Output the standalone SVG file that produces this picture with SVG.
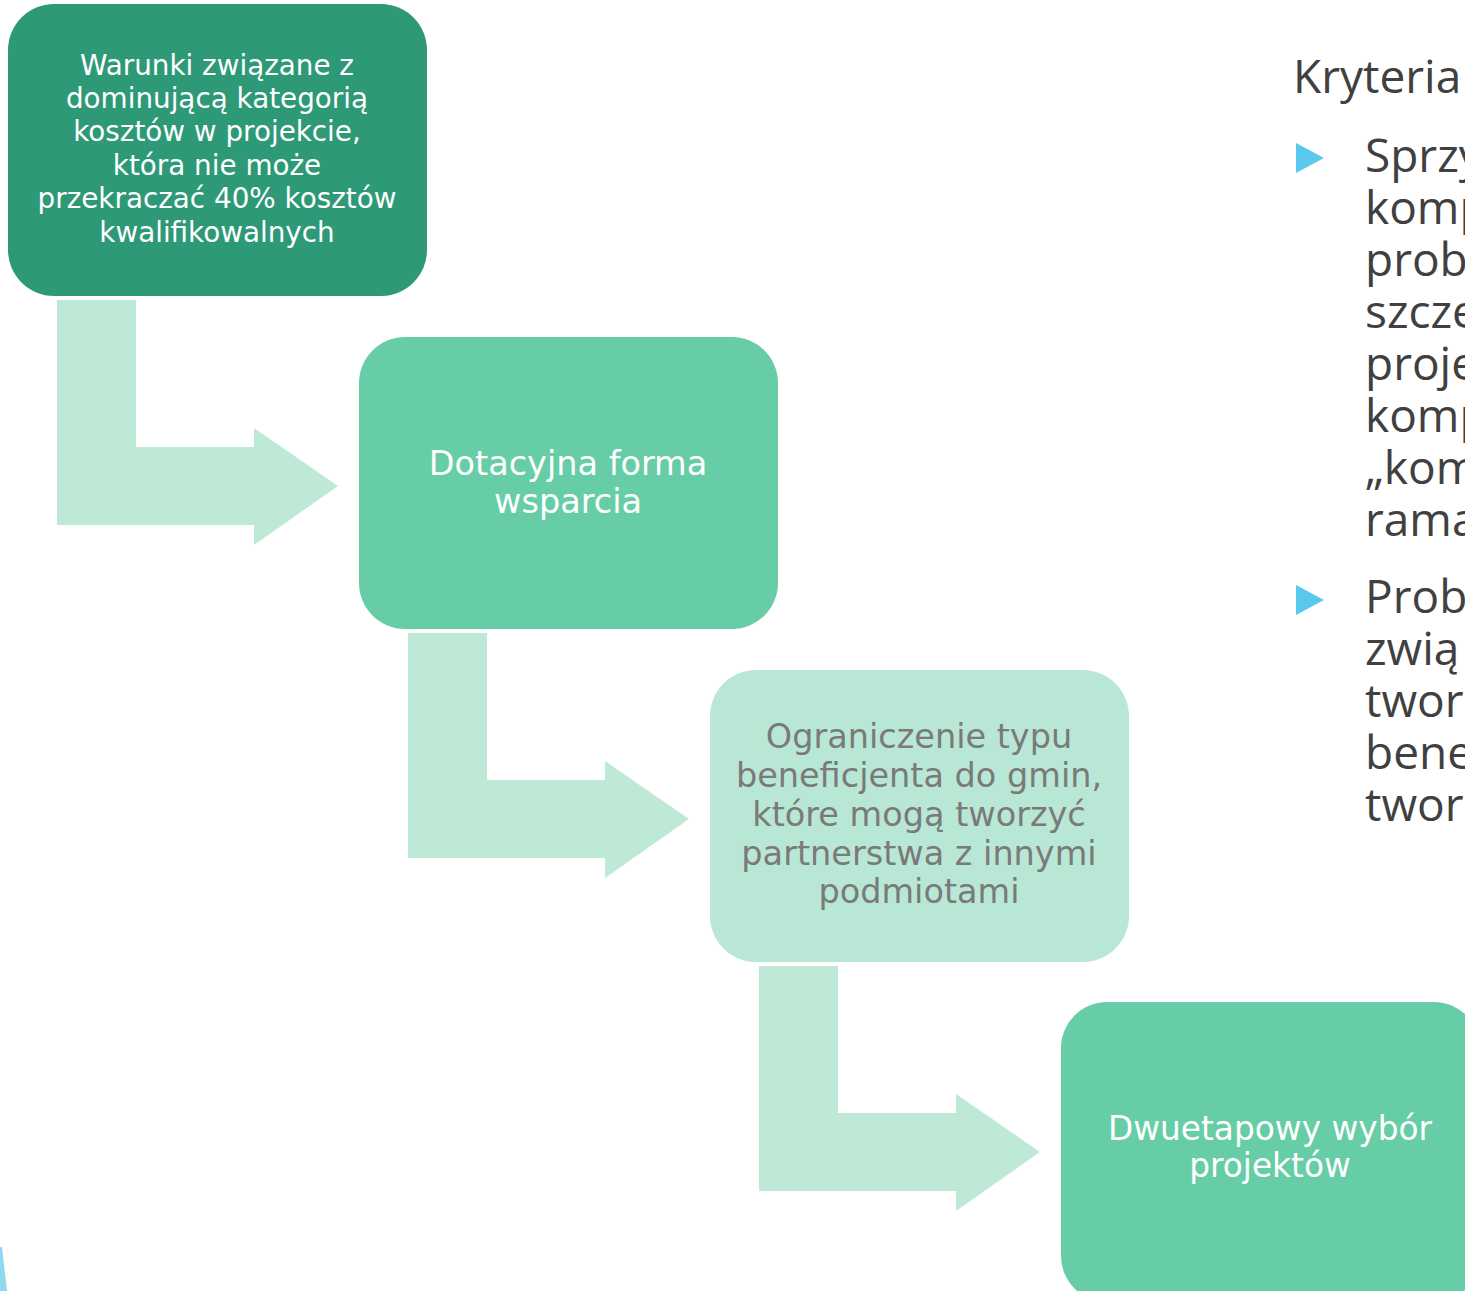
<svg xmlns="http://www.w3.org/2000/svg" width="1465" height="1291" viewBox="0 0 1465 1291">
<style>
.t{font-family:"DejaVu Sans","Open Sans",sans-serif;text-anchor:middle}
.w{fill:#ffffff}
.g{fill:#7a7a7a}
.r{font-family:"Open Sans","DejaVu Sans",sans-serif;fill:#404040}
.arr{fill:#bee9d7}
.bul{fill:#5bc8ee}
</style>
<rect width="1465" height="1291" fill="#ffffff"/>
<g id="connectors">
<polygon class="arr" points="57,300 136,300 136,447 254,447 254,428 338,486 254,545 254,525 57,525"/>
<polygon class="arr" points="408,633 487,633 487,780 605,780 605,761 689,819 605,878 605,858 408,858"/>
<polygon class="arr" points="759,966 838,966 838,1113 956,1113 956,1094 1040,1152 956,1211 956,1191 759,1191"/>
</g>
<g id="node1">
<rect x="8" y="4" width="419" height="292" rx="46" fill="#2e9977"/>
<text class="t w" font-size="27.8"><tspan x="217" y="75">Warunki związane z</tspan><tspan x="217" y="108">dominującą kategorią</tspan><tspan x="217" y="141">kosztów w projekcie,</tspan><tspan x="217" y="175">która nie może</tspan><tspan x="217" y="208">przekraczać 40% kosztów</tspan><tspan x="217" y="242">kwalifikowalnych</tspan></text>
</g>
<g id="node2">
<rect x="359" y="337" width="419" height="292" rx="46" fill="#66cda6"/>
<text class="t w" font-size="33.5"><tspan x="568" y="475">Dotacyjna forma</tspan><tspan x="568" y="513">wsparcia</tspan></text>
</g>
<g id="node3">
<rect x="710" y="670" width="419" height="292" rx="46" fill="#b8e8d5"/>
<text class="t g" font-size="33.5"><tspan x="919" y="748">Ograniczenie typu</tspan><tspan x="919" y="787">beneficjenta do gmin,</tspan><tspan x="919" y="826">które mogą tworzyć</tspan><tspan x="919" y="865">partnerstwa z innymi</tspan><tspan x="919" y="903">podmiotami</tspan></text>
</g>
<g id="node4">
<rect x="1061" y="1002" width="419" height="300" rx="46" fill="#66cda6"/>
<text class="t w" font-size="32.8"><tspan x="1270" y="1140">Dwuetapowy wybór</tspan><tspan x="1270" y="1177">projektów</tspan></text>
</g>
<g id="side-text">
<text class="r" x="1293" y="93" font-size="46">Kryteria</text>
<polygon class="bul" points="1296,143 1324,158 1296,173"/>
<polygon class="bul" points="1296,585 1324,600 1296,615"/>
<text class="r" font-size="46"><tspan x="1365" y="172">Sprzy</tspan><tspan x="1365" y="224">komp</tspan><tspan x="1365" y="276">prob</tspan><tspan x="1365" y="328">szcze</tspan><tspan x="1365" y="380">proje</tspan><tspan x="1365" y="432">komp</tspan><tspan x="1365" y="484">„kom</tspan><tspan x="1365" y="536">rama</tspan></text>
<text class="r" font-size="46"><tspan x="1365" y="613">Probl</tspan><tspan x="1365" y="665">zwią</tspan><tspan x="1365" y="717">twor</tspan><tspan x="1365" y="769">bene</tspan><tspan x="1365" y="821">twor</tspan></text>
</g>
<polygon points="0,1247 2,1247 7,1291 0,1291" fill="#8ed8f0"/>
</svg>
